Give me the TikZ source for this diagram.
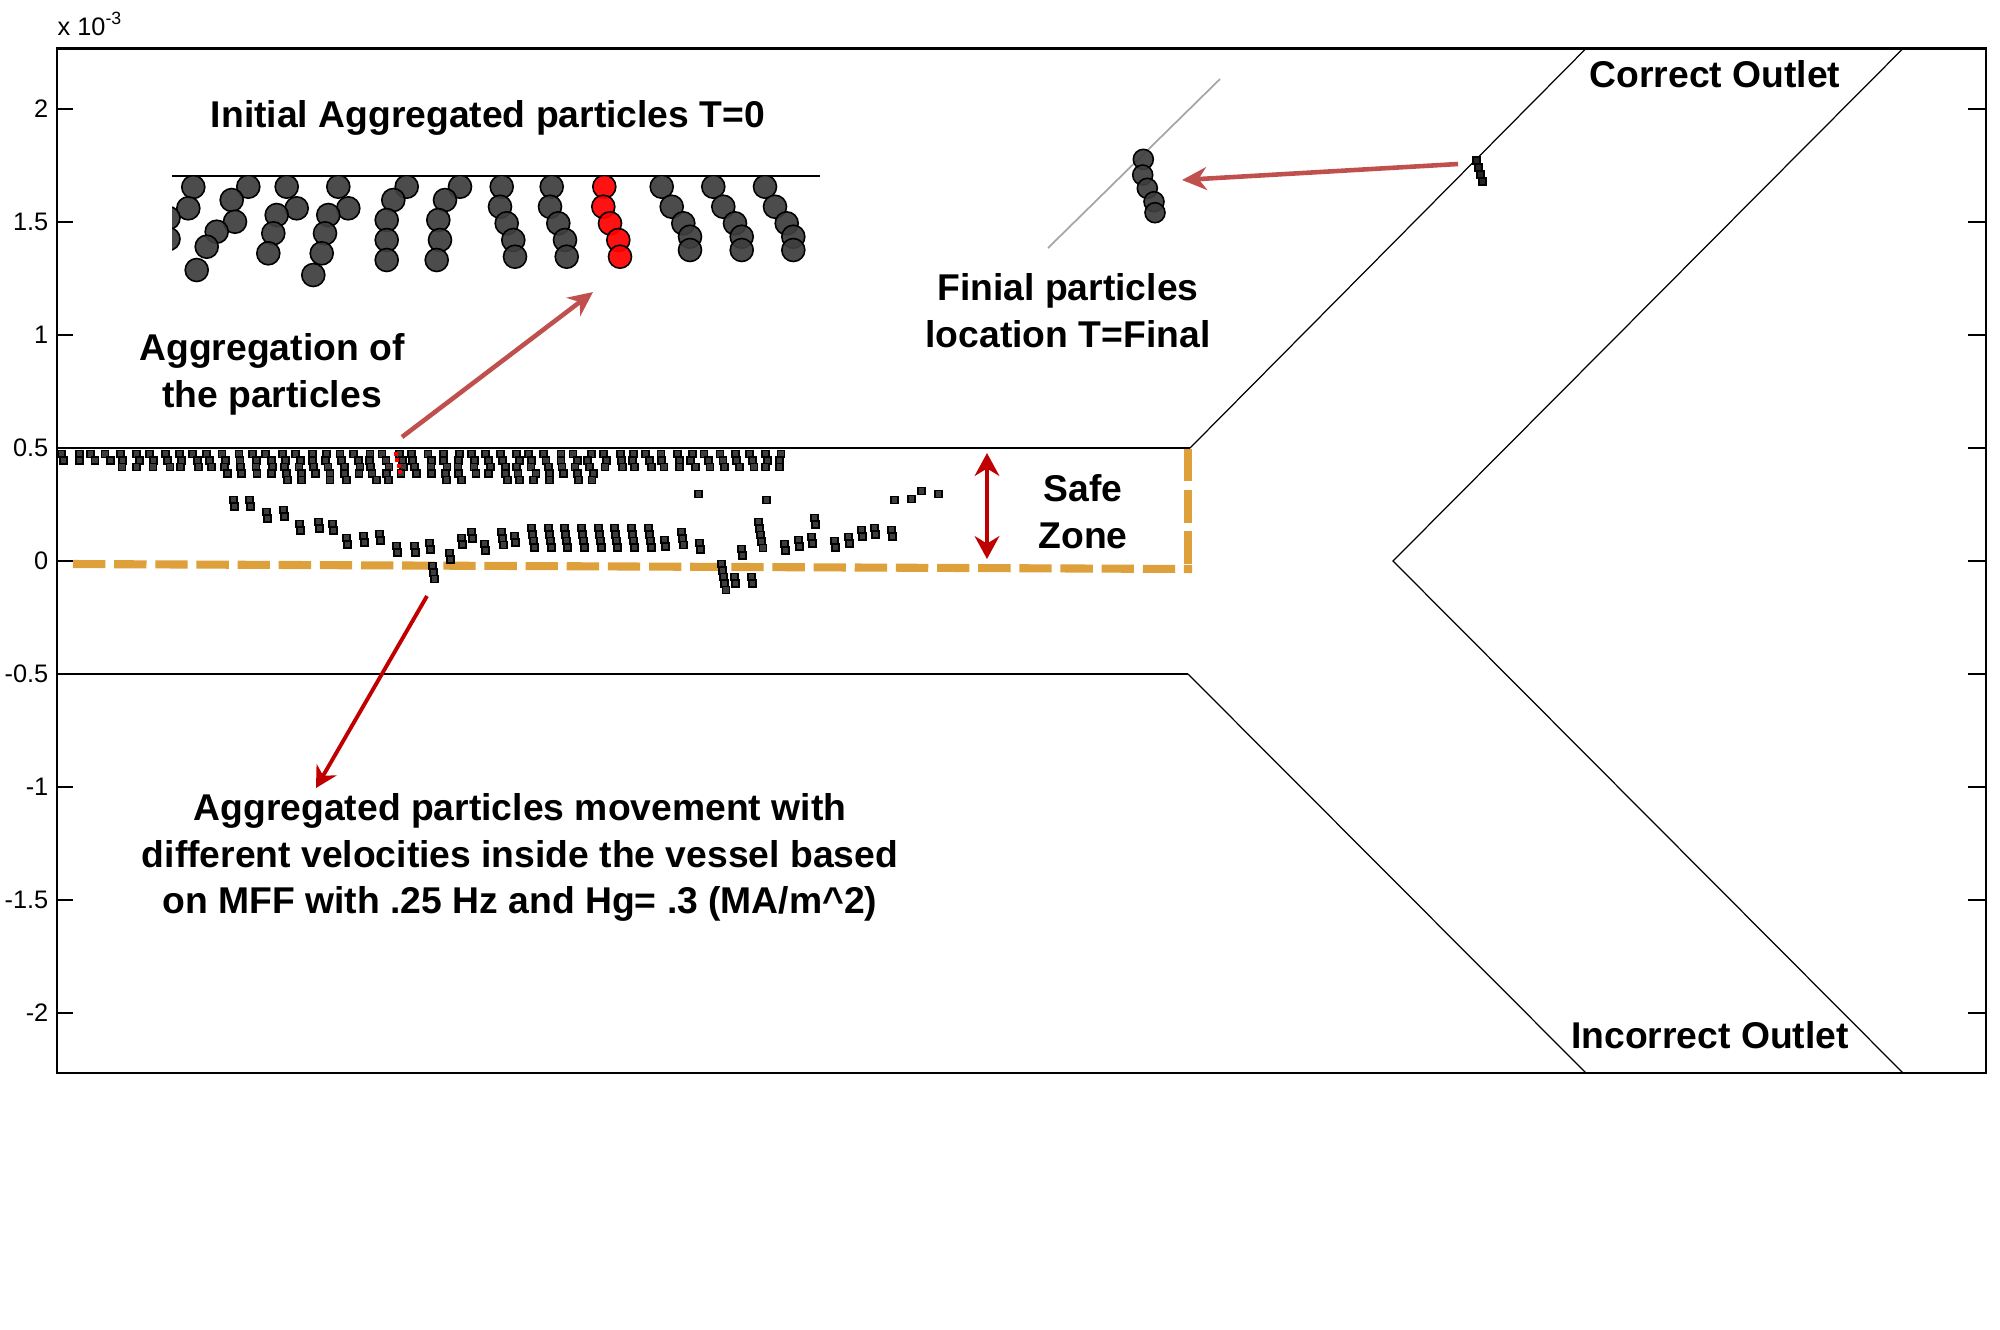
\documentclass[tikz,border=0pt]{standalone}
\usepackage{fontspec}
\setmainfont{Liberation Sans}
\usepackage{tikz}
\usetikzlibrary{arrows.meta}
\usepackage{xcolor}
\definecolor{mfred}{RGB}{192,0,0}
\definecolor{mfbrick}{RGB}{192,80,77}
\definecolor{mfgold}{RGB}{221,160,58}
\definecolor{mfgrey}{RGB}{62,62,62}
\tikzstyle{wall} = [line width=0.6pt]
\tikzstyle{branch} = [line width=0.35pt]
\tikzstyle{ticklab} = [anchor=east, inner sep=0pt, font=\fontsize{7.2}{8.6}\selectfont]
\tikzstyle{note} = [align=center, inner sep=0pt, font=\fontsize{10.6}{13.2}\selectfont\bfseries]
\tikzstyle{ball} = [fill=mfgrey, fill opacity=0.93, draw=black, line width=0.45pt]
\tikzstyle{bit} = [fill=mfgrey, draw=black, line width=0.5pt]
\tikzstyle{zone} = [mfgold, line width=2.3pt, dash pattern=on 9.2pt off 2.5pt]
\tikzstyle{arrow} = [-{Stealth[length=7pt,width=6.5pt]}, line width=1.3pt]

\begin{document}
\begin{tikzpicture}[x=0.01cm, y=-0.01cm]
\useasboundingbox (0,0) rectangle (2000,1329);

% Axes box and ticks
\draw[wall] (57.4,48.5) rectangle (1986,1073);
\foreach \yv in {2,1.5,1,0.5,0,-0.5,-1,-1.5,-2} {
  \draw[wall] (57.4,{561-226*(\yv)}) -- ++(16,0);
  \draw[wall] (1986,{561-226*(\yv)}) -- ++(-18,0);
  \node[ticklab] at (49,{561-226*(\yv)}) {\yv};
}
\node[anchor=base west, inner sep=0pt, font=\fontsize{7.2}{8.6}\selectfont] (scalelab) at (57,35) {x 10\textsuperscript{-3}};

% Vessel walls
\draw[wall] (57.4,448) -- (1190,448);
\draw[wall] (57.4,674) -- (1188,674);
\draw[branch] (1190,448) -- (1586,48.5);
\draw[branch] (1188,674) -- (1586,1073);
\draw[branch] (1903,48.5) -- (1393,561) -- (1903,1073);

% Safe zone
\draw[zone] (73,564) -- (1192,569);
\draw[zone] (1188,449) -- (1188,569);
\coordinate (zonetop) at (987,453);
\coordinate (zonebot) at (987,559);
\draw[mfred, line width=1.2pt, {Stealth[length=6.5pt,width=7pt]}-{Stealth[length=6.5pt,width=7pt]}] (zonetop) -- (zonebot);

% Initial particles T=0
\draw[line width=0.6pt] (172,175.7) -- (820,175.7);
\begin{scope}
\clip (172,176) rectangle (830,300);
\foreach \px/\py in {193.3/187,188.3/208.3,168.5/218,168.5/239,
  248.3/186.7,231.7/200,235/221.7,216.7/231.7,206.7/246.7,196.7/270,
  286.7/186.7,296.7/208.3,276.7/215,273.3/233.3,268.3/253.3,
  338.3/186.7,348.3/208.3,328.3/215,325/233.3,321.7/253.3,313.3/275,
  406.7/186.7,393.3/200,386.7/220,386.7/240,386.7/260,
  460/186.7,445/200,438.3/220,440/240,436.7/260,
  501.7/186.7,500/206.7,506.7/223.3,513.3/240,515/256.7,
  551.7/186.7,550/206.7,558.3/223.3,565/240,566.7/256.7,
  661.7/186.7,671.7/206.7,683.3/223.3,690/236.7,690/250,
  713.3/186.7,723.3/206.7,735/223.3,741.7/236.7,741.7/250,
  765/186.7,775/206.7,786.7/223.3,793.3/236.7,793.3/250}
  \filldraw[ball] (\px,\py) circle (0.115cm);
\foreach \px/\py in {604.3/186.7,603.3/206.7,610/223.3,618.3/240,620/256.7}
  \filldraw[ball, fill=red] (\px,\py) circle (0.115cm);
\end{scope}

% Particles along the upper wall
\pgfmathsetseed{17}
\foreach \i in {0,...,49} {
  \pgfmathsetmacro{\cx}{62+14.6*\i}
  \pgfmathtruncatemacro{\n}{\cx<110 ? 2 : (\cx<210 ? 3 : (\cx<600 ? 4+round(rnd) : 3))}
  \foreach \k in {1,...,\n} {
    \pgfmathsetmacro{\bx}{\cx+2.5*rand+1.2*\k}
    \draw[bit] ({\bx-3.5},{444+6.5*\k}) rectangle ++(7,7);
  }
}
\foreach \k in {1,...,4}
  \fill[red] ({392+1.5*\k},{446+6*\k}) rectangle ++(4,4);

% Particles near the safe zone
\foreach \bx/\by/\n in {232/500/2,248/500/2,265/512/2,282/510/2,298/524/2,317/522/2,
  331/524/2,345/538/2,362/536/2,378/534/2,395/546/2,413/546/2,428/543/2,431/566/3,
  448/553/2,460/538/2,470/532/2,483/544/2,500/532/3,513/536/2,530/528/4,547/528/4,
  563/528/4,580/528/4,597/528/4,613/528/4,630/528/4,647/528/4,663/540/2,680/532/3,
  698/543/2,697/494/1,720/564/5,733/577/2,750/577/2,740/549/2,757/522/5,765/500/1,
  783/544/2,797/540/2,810/537/2,813/518/2,833/541/2,847/537/2,860/530/2,873/528/2,
  890/530/2,893/500/1,910/499/1,920/491/1,937/494/1}
  \foreach \k in {1,...,\n}
    \draw[bit] ({\bx-3.5+1.2*\k},{\by-10+6.5*\k}) rectangle ++(7,7);

% Final particles
\draw[gray!70, line width=0.5pt] (1220,79) -- (1048,248);
\foreach \px/\py in {1143.3/159.3,1142.7/175,1147.3/188.3,1154/201.7,1155/212.7}
  \filldraw[ball] (\px,\py) circle (0.1cm);
\foreach \k in {0,...,3}
  \draw[bit, fill=black!85] ({1473+2*\k},{157+7*\k}) rectangle ++(7,7);

% Labels
\node[note, anchor=base] (initlab) at (488,127) {Initial Aggregated particles T=0};
\node[note, anchor=north] (agglab) at (272,333) {Aggregation of\\the particles};
\node[note, anchor=north] (finlab) at (1068,273) {Finial particles\\location T=Final};
\node[note, anchor=north] (safelab) at (1083,474) {Safe\\Zone};
\node[note, anchor=north] (movelab) at (520,793) {Aggregated particles movement with\\different velocities inside the vessel based\\on MFF with .25 Hz and Hg= .3 (MA/m\^{}2)};
\node[note, anchor=base] (goodout) at (1715,87) {Correct Outlet};
\node[note, anchor=base] (badout) at (1710,1048) {Incorrect Outlet};

% Arrows
\coordinate (redlow) at (402,437);
\coordinate (redtop) at (593,292);
\draw[arrow, mfbrick] (redlow) -- (redtop);
\coordinate (exit) at (1458,164);
\coordinate (finhead) at (1182,180);
\draw[arrow, mfbrick] (exit) -- (finhead);
\coordinate (drift) at (427,596);
\coordinate (captip) at (316,788);
\draw[mfred, line width=1.1pt, -{Stealth[length=6pt,width=6.5pt]}] (drift) -- (captip);
\end{tikzpicture}
\end{document}
